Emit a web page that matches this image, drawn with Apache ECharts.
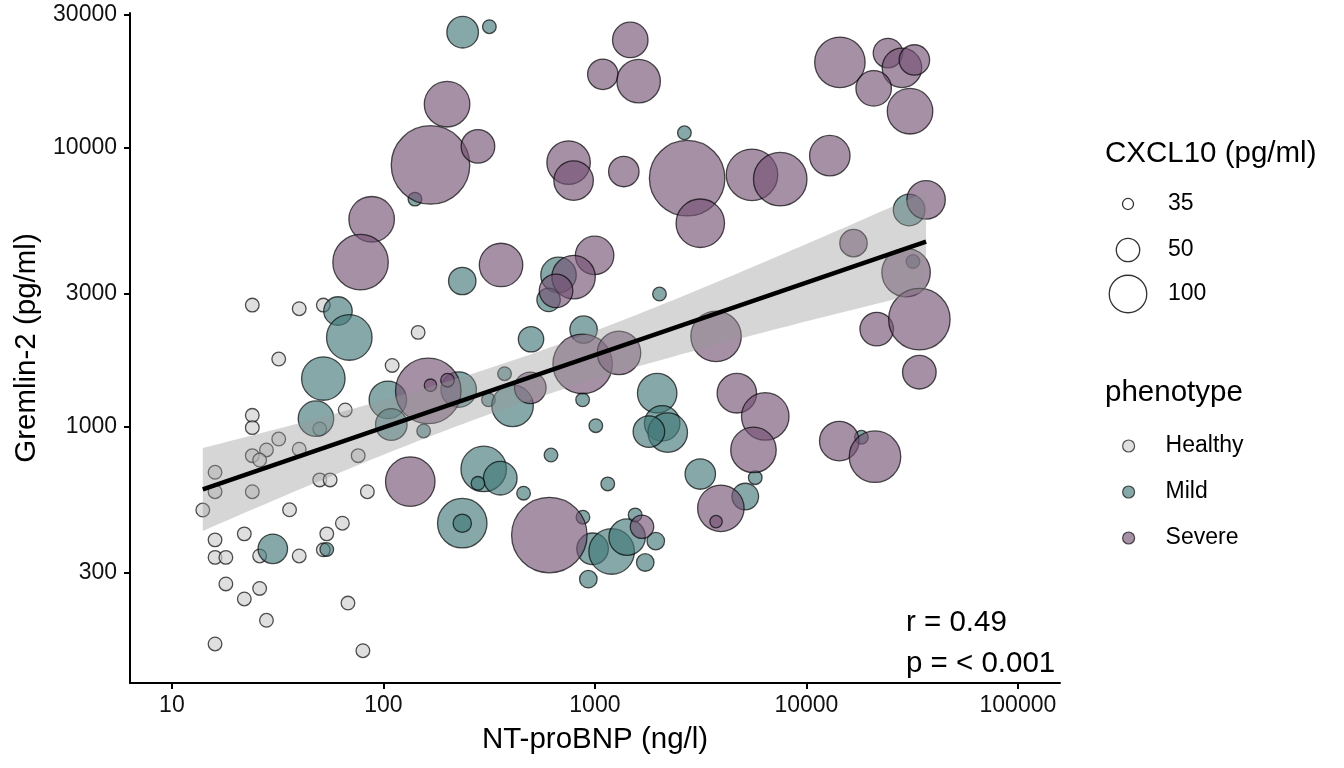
<!DOCTYPE html>
<html><head><meta charset="utf-8">
<script src="https://cdn.jsdelivr.net/npm/echarts@6/dist/echarts.min.js"></script>
<style>html,body{margin:0;padding:0;background:#fff}#c{width:1344px;height:768px}</style>
</head><body><div id="c"></div>
<script>
// each point: [NT-proBNP (ng/l), Gremlin-2 (pg/ml), CXCL10 (pg/ml)]
const healthy = [
[24,2730,37],[40,2650,37],[52,2730,37],[146,2180,37],[32,1750,37],[110,1660,37],[66,1150,37],[24,1100,37],
[24,994,37],[50,983,37],[32,905,37],[28,827,37],[24,789,37],[26,761,37],[40,832,37],[76,789,37],
[16,688,37],[16,586,37],[24,586,37],[14,504,37],[36,505,37],[50,646,37],[56,646,37],[84,586,37],
[64,452,37],[54,414,37],[22,414,37],[16,394,37],[16,341,37],[18,341,37],[26,345,37],[40,345,37],
[52,363,37],[18,274,37],[26,264,37],[22,242,37],[28,203,37],[68,234,37],[16,167,37],[80,158,37]
];
const mild = [
[237,25900,72],[317,27100,37],[141,6540,37],[2650,11300,37],[30600,5980,72],[61,2600,62],[69,2090,170],
[52,1490,147],[105,1250,100],[109,1020,72],[155,967,37],[48,1070,89],[236,3330,59],[673,3500,89],
[604,2850,50],[2020,2990,37],[499,2060,54],[884,2230,59],[374,1550,37],[227,1360,89],[314,1250,37],
[408,1190,129],[875,1250,37],[1970,1320,113],[2080,1030,89],[2210,954,113],[1800,962,72],[1010,1010,37],
[620,793,37],[298,707,170],[357,655,80],[280,628,37],[460,579,37],[3150,678,68],[236,452,229],[236,452,42],
[878,475,37],[1150,625,37],[975,366,72],[1200,358,170],[1420,403,94],[1550,484,37],[1940,390,41],
[1730,327,41],[931,285,41],[5140,563,57],[5730,658,37],[18200,918,37],[31900,3910,37],[30,366,65],[54,364,37]
];
const severe = [
[167,8670,4260],[88,5540,170],[78,3890,377],[1470,24300,89],[1090,18300,68],[1610,17300,147],[200,14300,170],
[280,10100,80],[751,8840,147],[793,7620,113],[1370,8210,68],[2730,7770,2970],[5530,7990,269],[3150,5360,212],
[997,4110,106],[14400,20200,248],[24300,21800,65],[28300,19300,113],[32400,20600,68],[20800,16300,89],
[30900,13500,170],[7520,7710,318],[12900,9360,120],[36800,6500,106],[16700,4550,59],[29600,3570,212],
[21500,2240,80],[34200,2430,657],[34200,1570,80],[163,1345,980],[167,1410,36],[201,1470,37],[134,637,229],
[360,3800,147],[793,3440,147],[655,3070,80],[875,1680,543],[1300,1840,147],[3740,2110,248],[495,1380,72],
[4690,1320,113],[6390,1090,197],[5620,827,170],[3940,511,182],[3740,458,36],[609,410,2970],[1670,439,50],
[14300,890,113],[21100,782,269]
];
const xTickValues = [10, 100, 1000, 10000, 100000];
const yTickValues = [300, 1000, 3000, 10000, 30000];
const sizeLegendValues = [35, 50, 100];
const phenotypes = ['Healthy', 'Mild', 'Severe'];
const statLines = ['r = 0.49', 'p = < 0.001'];

const FONT = '"Liberation Sans", Arial, Helvetica, sans-serif';
const TITLE_PX = 29.5, TEXT_PX = 23;
const colors = {Healthy: 'rgba(205,205,205,0.8)', Mild: 'rgba(65,119,119,0.8)', Severe: 'rgba(115,81,116,0.8)'};
const BORDER = 'rgba(0,0,0,0.85)';
// CXCL10 -> bubble diameter (area ~ log of value)
function bubble(v) { return Math.max(2, Math.sqrt(1300 * Math.log(v / 31)) - 1.5); }

const L = Math.log10;
const toLog = arr => arr.map(d => [L(d[0]), L(d[1]), d[2]]);
const groups = {Healthy: toLog(healthy), Mild: toLog(mild), Severe: toLog(severe)};

// linear fit in log-log space with 95% confidence band
const pts = [].concat(groups.Healthy, groups.Mild, groups.Severe);
const n = pts.length;
const mx = pts.reduce((s, p) => s + p[0], 0) / n;
const my = pts.reduce((s, p) => s + p[1], 0) / n;
let sxx = 0, sxy = 0;
pts.forEach(p => { sxx += (p[0] - mx) ** 2; sxy += (p[0] - mx) * (p[1] - my); });
const slope = sxy / sxx, icpt = my - slope * mx;
let sse = 0; pts.forEach(p => { sse += (p[1] - icpt - slope * p[0]) ** 2; });
const sres = Math.sqrt(sse / (n - 2));
const tq = 1.977;
const xmin = Math.min(...pts.map(p => p[0])), xmax = Math.max(...pts.map(p => p[0]));
const steps = 80;
const upper = [], lower = [];
for (let i = 0; i <= steps; i++) {
  const x = xmin + (xmax - xmin) * i / steps;
  const f = icpt + slope * x;
  const se = sres * Math.sqrt(1 / n + (x - mx) ** 2 / sxx);
  upper.push([x, f + tq * se]); lower.push([x, f - tq * se]);
}
const bandPoly = upper.concat(lower.reverse());
const fitLine = [[xmin, icpt + slope * xmin], [xmax, icpt + slope * xmax]];

const chart = echarts.init(document.getElementById('c'));
const scatterSeries = phenotypes.map(name => ({
  type: 'scatter', name, data: groups[name], z: 2,
  symbol: 'circle',
  symbolSize: v => bubble(v[2]),
  itemStyle: {color: colors[name], borderColor: BORDER, borderWidth: 1.3},
  emphasis: {disabled: true}
}));

const gx = 1128, sizeY = [204, 250, 294];
const graphic = [
  {type: 'text', left: 1105, top: 139, style: {text: 'CXCL10 (pg/ml)', font: TITLE_PX + 'px ' + FONT, fill: '#000'}},
  {type: 'text', left: 1105, top: 378, style: {text: 'phenotype', font: TITLE_PX + 'px ' + FONT, fill: '#000'}}
];
sizeLegendValues.forEach((v, i) => {
  graphic.push({type: 'circle', shape: {cx: gx, cy: sizeY[i], r: bubble(v) / 2},
    style: {fill: 'none', stroke: '#333', lineWidth: 1.3}});
  graphic.push({type: 'text', x: 1168, y: sizeY[i], style: {text: String(v), font: TEXT_PX + 'px ' + FONT, fill: '#000', textVerticalAlign: 'middle'}});
});
statLines.forEach((t, i) => {
  graphic.push({type: 'text', x: 906, y: [623, 664][i], style: {text: t, font: TITLE_PX + 'px ' + FONT, fill: '#000', textVerticalAlign: 'middle'}});
});

chart.setOption({
  animation: false,
  backgroundColor: '#fff',
  textStyle: {fontFamily: FONT},
  grid: {left: 130, right: 284, top: 13, bottom: 85},
  legend: {
    data: phenotypes, orient: 'vertical', left: 1122, top: 434, padding: 0,
    icon: 'circle', itemWidth: 12, itemHeight: 12, itemGap: 22,
    itemStyle: {borderColor: BORDER, borderWidth: 1.2},
    textStyle: {fontSize: TEXT_PX, color: '#000', lineHeight: 24, fontFamily: FONT, padding: [0, 0, 0, 26]},
    selectedMode: false
  },
  xAxis: {
    type: 'value', min: 0.802, max: 5.199,
    name: 'NT-proBNP (ng/l)', nameLocation: 'middle', nameGap: 42,
    nameTextStyle: {fontSize: TITLE_PX, color: '#000', fontFamily: FONT},
    axisLine: {onZero: false, lineStyle: {color: '#000', width: 2}},
    axisTick: {customValues: xTickValues.map(L), length: 6, lineStyle: {color: '#000', width: 2}},
    axisLabel: {customValues: xTickValues.map(L), formatter: v => String(Math.round(Math.pow(10, v))),
      fontSize: TEXT_PX, color: '#111', margin: 11, fontFamily: FONT},
    splitLine: {show: false}
  },
  yAxis: {
    type: 'value', min: 2.083, max: 4.482,
    name: 'Gremlin-2 (pg/ml)', nameLocation: 'middle', nameGap: 86,
    nameTextStyle: {fontSize: TITLE_PX, color: '#000', fontFamily: FONT},
    axisLine: {onZero: false, lineStyle: {color: '#000', width: 2}},
    axisTick: {customValues: yTickValues.map(L), length: 6, lineStyle: {color: '#000', width: 2}},
    axisLabel: {customValues: yTickValues.map(L), formatter: v => String(Math.round(Math.pow(10, v))),
      fontSize: TEXT_PX, color: '#111', margin: 13, fontFamily: FONT},
    splitLine: {show: false}
  },
  graphic,
  series: scatterSeries.concat([
    {
      type: 'custom', name: 'band', z: 3, silent: true,
      data: [[xmin, icpt + slope * xmin]],
      renderItem: (params, api) => ({
        type: 'polygon',
        shape: {points: bandPoly.map(p => api.coord(p))},
        style: {fill: 'rgba(153,153,153,0.4)'}
      })
    },
    {
      type: 'line', name: 'fit', z: 4, silent: true, data: fitLine,
      showSymbol: false, symbol: 'none',
      lineStyle: {color: '#000', width: 4.5}
    }
  ])
});
</script></body></html>
